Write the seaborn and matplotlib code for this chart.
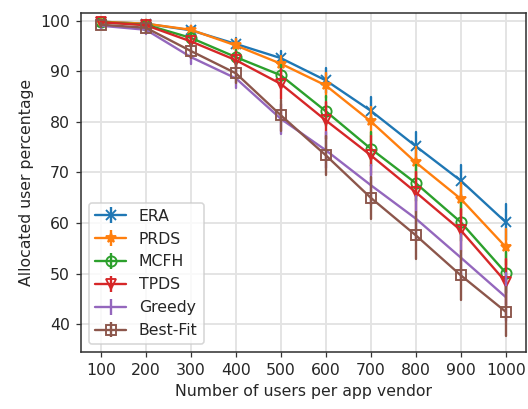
import numpy as np
import pandas as pd
import matplotlib
matplotlib.use("Agg")
import matplotlib.pyplot as plt
import seaborn as sns

users = [100, 200, 300, 400, 500, 600, 700, 800, 900, 1000]
series_names = ["ERA", "PRDS", "MCFH", "TPDS", "Greedy", "Best-Fit"]

era = [99.8, 99.4, 98.1, 95.4, 92.6, 88.2, 82.2, 75.2, 68.4, 60.2]
prds = [99.8, 99.4, 98.2, 95.1, 91.5, 87.2, 80.1, 72.0, 64.8, 55.3]
mcfh = [99.7, 99.2, 96.6, 92.8, 89.2, 82.1, 74.7, 67.9, 60.2, 50.2]
tpds = [99.7, 99.1, 95.9, 92.2, 87.5, 80.3, 73.4, 66.1, 58.6, 48.4]
greedy = [99.0, 98.2, 92.8, 88.6, 80.6, 74.4, 67.5, 60.9, 53.2, 45.4]
bestfit = [99.2, 98.6, 94.0, 89.6, 81.3, 73.4, 65.0, 57.6, 49.7, 42.5]

era_err = [0.3, 0.6, 0.8, 1.2, 1.5, 2.4, 2.8, 2.9, 3.0, 3.6]
prds_err = [0.3, 0.5, 0.8, 1.2, 1.6, 2.4, 2.8, 3.0, 3.2, 3.5]
mcfh_err = [0.3, 0.6, 1.0, 1.5, 2.0, 3.0, 3.4, 3.6, 3.8, 4.0]
tpds_err = [0.3, 0.6, 1.0, 1.6, 3.0, 3.6, 3.8, 4.0, 4.2, 4.5]
greedy_err = [0.4, 0.8, 1.3, 2.0, 3.0, 3.6, 4.0, 4.4, 4.6, 4.8]
bestfit_err = [0.4, 0.8, 1.3, 2.0, 3.1, 3.8, 4.2, 4.6, 4.8, 4.9]

values = [era, prds, mcfh, tpds, greedy, bestfit]
errors = [era_err, prds_err, mcfh_err, tpds_err, greedy_err, bestfit_err]
markers = ["x", "*", "o", "v", "", "s"]
fills = [True, True, False, False, True, False]

sns.set_style("whitegrid")
plt.rcParams["font.family"] = ["DejaVu Sans"]

palette = sns.color_palette("tab10", 6)

DPI = 113
fig = plt.figure(figsize=(528 / DPI, 409 / DPI), dpi=DPI)
ax = fig.add_axes([0.153, 0.139, 0.843, 0.829])

rows = []
for name, vals, errs in zip(series_names, values, errors):
    for u, v, e in zip(users, vals, errs):
        rows.append({"users": u, "pct": v - e, "series": name})
        rows.append({"users": u, "pct": v + e, "series": name})
df = pd.DataFrame(rows)

MS = 6.5
handles = []
for i, name in enumerate(series_names):
    c = palette[i]
    sub = df[df["series"] == name]
    mk = markers[i] if markers[i] else None
    kw = dict(marker=mk, markersize=MS, linewidth=1.5)
    if mk is not None and not fills[i]:
        kw.update(markerfacecolor="none", markeredgecolor=c, markeredgewidth=1.2)
    elif mk is not None:
        kw.update(markeredgecolor=c, markeredgewidth=1.2)
    sns.lineplot(data=sub, x="users", y="pct", estimator="mean",
                 errorbar=lambda x: (x.min(), x.max()),
                 err_style="bars", err_kws=dict(linewidth=1.5, capsize=0),
                 color=c, ax=ax, legend=False, **kw)
    h = ax.errorbar([np.nan], [np.nan], yerr=[1], color=c,
                    marker=mk if mk else None, markersize=MS, linewidth=1.5,
                    markerfacecolor=("none" if (mk and not fills[i]) else c),
                    markeredgecolor=c, markeredgewidth=1.2, label=name)
    handles.append(h)

ax.set_xticks(users)
ax.set_xlim(55, 1045)
ax.set_ylim(34.5, 101.5)
ax.set_yticks([40, 50, 60, 70, 80, 90, 100])
ax.set_xlabel("Number of users per app vendor", fontsize=10)
ax.set_ylabel("Allocated user percentage", fontsize=10)
ax.tick_params(axis="both", labelsize=10, length=3.5, width=0.8, color="#333333",
               left=True, bottom=True)
ax.grid(True, color="#e3e3e3", linewidth=1.2)
for s in ax.spines.values():
    s.set_linewidth(1.0)
    s.set_color("#333333")
ax.legend(handles=handles, labels=series_names, loc="lower left", fontsize=10,
          frameon=True, framealpha=0.8, edgecolor="#cccccc")

fig.savefig("out.png", dpi=DPI)
